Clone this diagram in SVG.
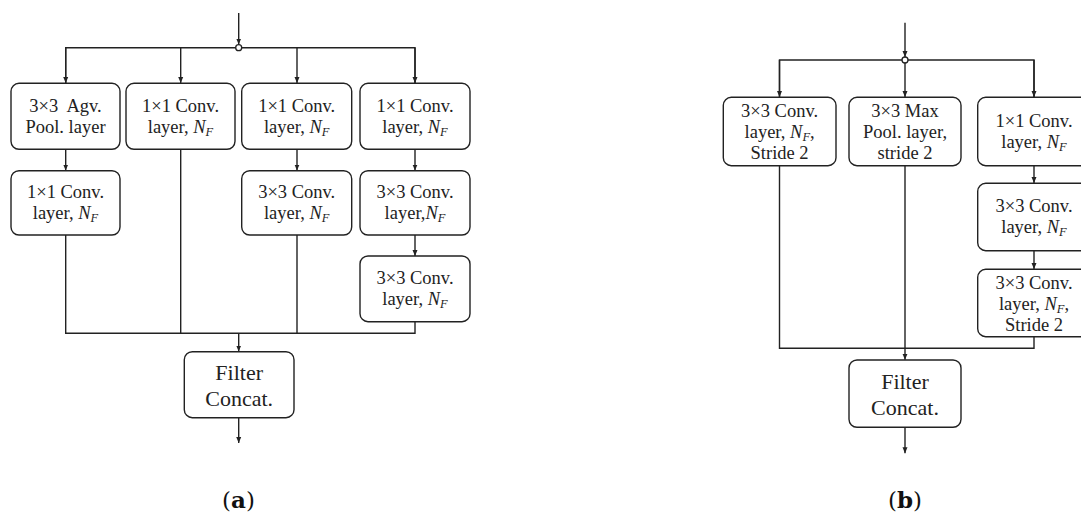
<svg xmlns="http://www.w3.org/2000/svg" width="1081" height="519" viewBox="0 0 1081 519">
<style>
.box{fill:#fff;stroke:#222;stroke-width:1.4}
.ln{fill:none;stroke:#222;stroke-width:1.4}
.t{font-family:"Liberation Serif","Times New Roman",serif;font-size:18.5px;fill:#222;text-anchor:middle;white-space:pre}
.big{font-size:22px}
.i{font-style:italic}
.s{font-style:italic;font-size:12.5px}
.lab{font-family:"DejaVu Serif","Liberation Serif",serif;font-size:23px;fill:#111;text-anchor:middle}
</style>
<defs>
<marker id="ah" markerUnits="userSpaceOnUse" markerWidth="6" markerHeight="6" refX="6" refY="3" orient="auto">
<path d="M0,0.5 L6,3 L0,5.5 z" fill="#222"/>
</marker>
</defs>

<g id="connectors">
<!-- panel a -->
<line class="ln" x1="238.7" y1="13" x2="238.7" y2="44.5" marker-end="url(#ah)"/>
<path class="ln" d="M65.7,83 V47.7 H415 V83"/>
<line class="ln" x1="65.7" y1="47.7" x2="65.7" y2="83" marker-end="url(#ah)"/>
<line class="ln" x1="180.7" y1="47.7" x2="180.7" y2="83" marker-end="url(#ah)"/>
<line class="ln" x1="297" y1="47.7" x2="297" y2="83" marker-end="url(#ah)"/>
<line class="ln" x1="415" y1="47.7" x2="415" y2="83" marker-end="url(#ah)"/>
<line class="ln" x1="65.7" y1="149.3" x2="65.7" y2="170.5" marker-end="url(#ah)"/>
<line class="ln" x1="297" y1="149.3" x2="297" y2="170.5" marker-end="url(#ah)"/>
<line class="ln" x1="415" y1="149.3" x2="415" y2="170.5" marker-end="url(#ah)"/>
<line class="ln" x1="415" y1="235" x2="415" y2="256" marker-end="url(#ah)"/>
<path class="ln" d="M65.7,235 V333.3 H415 V321.7"/>
<line class="ln" x1="180.7" y1="149.3" x2="180.7" y2="333.3"/>
<line class="ln" x1="297" y1="235" x2="297" y2="333.3"/>
<line class="ln" x1="238.7" y1="333.3" x2="238.7" y2="351.5" marker-end="url(#ah)"/>
<line class="ln" x1="238.7" y1="417.7" x2="238.7" y2="443" marker-end="url(#ah)"/>
<circle cx="238.7" cy="47.7" r="3" fill="#fff" stroke="#222" stroke-width="1.3"/>
<!-- panel b -->
<line class="ln" x1="905" y1="22.7" x2="905" y2="57" marker-end="url(#ah)"/>
<path class="ln" d="M779.5,97 V60 H1034 V97"/>
<line class="ln" x1="779.5" y1="60" x2="779.5" y2="97" marker-end="url(#ah)"/>
<line class="ln" x1="905" y1="60" x2="905" y2="97" marker-end="url(#ah)"/>
<line class="ln" x1="1034" y1="60" x2="1034" y2="97" marker-end="url(#ah)"/>
<line class="ln" x1="1034" y1="165.7" x2="1034" y2="183.1" marker-end="url(#ah)"/>
<line class="ln" x1="1034" y1="250.7" x2="1034" y2="269.1" marker-end="url(#ah)"/>
<path class="ln" d="M779.5,165.7 V348.3 H1034 V336.7"/>
<line class="ln" x1="905" y1="165.7" x2="905" y2="359.8" marker-end="url(#ah)"/>
<line class="ln" x1="905" y1="427.3" x2="905" y2="453.3" marker-end="url(#ah)"/>
<circle cx="905" cy="60" r="3" fill="#fff" stroke="#222" stroke-width="1.3"/>
</g>

<!-- panel a nodes -->
<g id="a-pool">
<rect class="box" x="11" y="83.3" width="109" height="66" rx="8"/>
<text class="t" x="65.5" y="111.5">3×3  Agv.</text>
<text class="t" x="65.5" y="132.5">Pool. layer</text>
</g>
<g id="a-conv1">
<rect class="box" x="126" y="83.3" width="109" height="66" rx="8"/>
<text class="t" x="180.5" y="111.5">1×1 Conv.</text>
<text class="t" x="180.5" y="132.5">layer, <tspan class="i">N</tspan><tspan class="s" dy="3">F</tspan></text>
</g>
<g id="a-conv2">
<rect class="box" x="241.7" y="83.3" width="110" height="66" rx="8"/>
<text class="t" x="296.7" y="111.5">1×1 Conv.</text>
<text class="t" x="296.7" y="132.5">layer, <tspan class="i">N</tspan><tspan class="s" dy="3">F</tspan></text>
</g>
<g id="a-conv3">
<rect class="box" x="360" y="83.3" width="110" height="66" rx="8"/>
<text class="t" x="415" y="111.5">1×1 Conv.</text>
<text class="t" x="415" y="132.5">layer, <tspan class="i">N</tspan><tspan class="s" dy="3">F</tspan></text>
</g>
<g id="a-pool-conv">
<rect class="box" x="11" y="170.7" width="109" height="64.3" rx="8"/>
<text class="t" x="65.5" y="198">1×1 Conv.</text>
<text class="t" x="65.5" y="219">layer, <tspan class="i">N</tspan><tspan class="s" dy="3">F</tspan></text>
</g>
<g id="a-conv2b">
<rect class="box" x="241.7" y="170.7" width="110" height="64.3" rx="8"/>
<text class="t" x="296.7" y="198">3×3 Conv.</text>
<text class="t" x="296.7" y="219">layer, <tspan class="i">N</tspan><tspan class="s" dy="3">F</tspan></text>
</g>
<g id="a-conv3b">
<rect class="box" x="360" y="170.7" width="110" height="64.3" rx="8"/>
<text class="t" x="415" y="198">3×3 Conv.</text>
<text class="t" x="415" y="219">layer,<tspan class="i">N</tspan><tspan class="s" dy="3">F</tspan></text>
</g>
<g id="a-conv3c">
<rect class="box" x="360" y="256" width="110" height="65.7" rx="8"/>
<text class="t" x="415" y="284">3×3 Conv.</text>
<text class="t" x="415" y="305">layer, <tspan class="i">N</tspan><tspan class="s" dy="3">F</tspan></text>
</g>
<g id="a-concat">
<rect class="box" x="184.3" y="351.7" width="109.7" height="66" rx="8"/>
<text class="t big" x="239.2" y="380">Filter</text>
<text class="t big" x="239.2" y="406">Concat.</text>
</g>

<!-- panel b nodes -->
<g id="b-conv">
<rect class="box" x="723.3" y="97.3" width="112.7" height="68.4" rx="8"/>
<text class="t" x="779.6" y="116.5">3×3 Conv.</text>
<text class="t" x="779.6" y="137.5">layer, <tspan class="i">N</tspan><tspan class="s" dy="3">F</tspan><tspan dy="-3">,</tspan></text>
<text class="t" x="779.6" y="158.5">Stride 2</text>
</g>
<g id="b-pool">
<rect class="box" x="849" y="97.3" width="112" height="68.4" rx="8"/>
<text class="t" x="905" y="116.5">3×3 Max</text>
<text class="t" x="905" y="137.5">Pool. layer,</text>
<text class="t" x="905" y="158.5">stride 2</text>
</g>
<g id="b-conv1">
<rect class="box" x="977.7" y="97.3" width="112.6" height="68.4" rx="8"/>
<text class="t" x="1034" y="126.5">1×1 Conv.</text>
<text class="t" x="1034" y="147.5">layer, <tspan class="i">N</tspan><tspan class="s" dy="3">F</tspan></text>
</g>
<g id="b-conv2">
<rect class="box" x="977.7" y="183.3" width="112.6" height="67.4" rx="8"/>
<text class="t" x="1034" y="212">3×3 Conv.</text>
<text class="t" x="1034" y="233">layer, <tspan class="i">N</tspan><tspan class="s" dy="3">F</tspan></text>
</g>
<g id="b-conv3">
<rect class="box" x="977.7" y="269.3" width="112.6" height="67.4" rx="8"/>
<text class="t" x="1034" y="288.5">3×3 Conv.</text>
<text class="t" x="1034" y="309.5">layer, <tspan class="i">N</tspan><tspan class="s" dy="3">F</tspan><tspan dy="-3">,</tspan></text>
<text class="t" x="1034" y="330.5">Stride 2</text>
</g>
<g id="b-concat">
<rect class="box" x="849" y="360" width="112" height="67.3" rx="8"/>
<text class="t big" x="905" y="389">Filter</text>
<text class="t big" x="905" y="415">Concat.</text>
</g>

<text class="lab" x="238.5" y="508">(<tspan font-weight="bold">a</tspan>)</text>
<text class="lab" x="905" y="508">(<tspan font-weight="bold">b</tspan>)</text>
</svg>
